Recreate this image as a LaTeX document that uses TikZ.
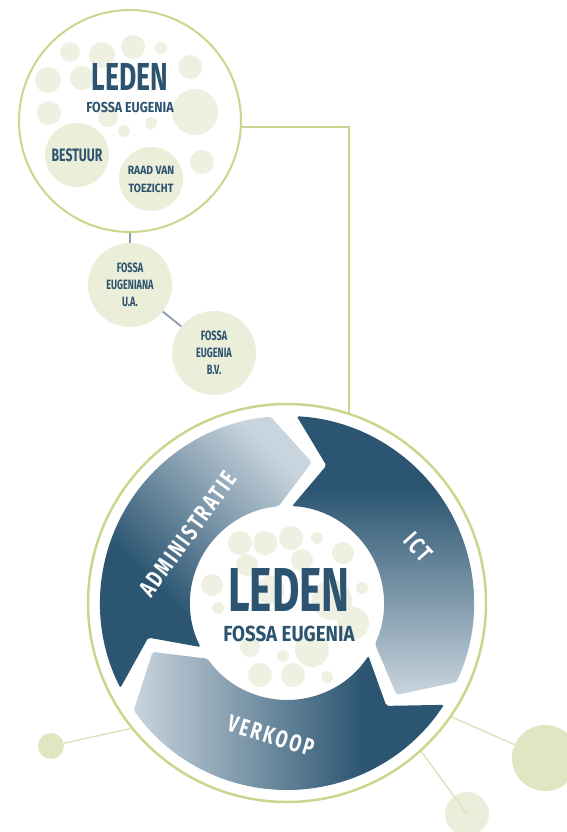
\documentclass[tikz,border=0pt]{standalone}
\usepackage{fontspec}
\newfontfamily\dinfont[FakeStretch=0.68]{Fira Sans}
\newfontfamily\dinbreed[FakeStretch=0.86]{Fira Sans}
\newfontfamily\dinlabel[FakeStretch=0.72,LetterSpace=10]{Fira Sans}

\definecolor{kringgroen}{RGB}{201,215,142}
\definecolor{bolvulling}{RGB}{235,238,217}
\definecolor{belletje}{RGB}{238,240,225}
\definecolor{tekstblauw}{RGB}{44,84,112}
\definecolor{pdonker}{RGB}{43,85,113}
\definecolor{plicht}{RGB}{201,213,222}
\definecolor{lijnblauw}{RGB}{140,156,176}
\definecolor{decogroen}{RGB}{224,229,194}
\definecolor{decolicht}{RGB}{235,238,219}
\definecolor{decolijnkleur}{RGB}{221,228,190}

\pgfdeclareverticalshading{pijlgrad}{100bp}{color(0bp)=(pdonker); color(38bp)=(pdonker); color(75bp)=(plicht); color(100bp)=(plicht)}

\tikzset{
  kring/.style={circle, draw=kringgroen, line width=2pt, fill=white, inner sep=0pt},
  bol/.style={circle, fill=bolvulling, inner sep=0pt, minimum size=84pt, text=tekstblauw,
    align=center, font=\dinfont\bfseries\fontsize{13.5}{17}\selectfont},
  deco/.style={circle, inner sep=0pt, draw=none},
  verbinding/.style={draw=lijnblauw, line width=1.8pt},
  groenlijn/.style={draw=kringgroen, line width=1.8pt},
  decolijn/.style={draw=decolijnkleur, line width=1.5pt},
  pijllabel/.style={text=white, font=\dinlabel\bfseries\fontsize{24}{24}\selectfont},
}

% one arrow of the ring: #1 = angle of the tip, #2 = shading angle
\newcommand{\kringpijl}[2]{%
  \shade[shading=pijlgrad, shading angle=#2, rounded corners=2pt]
    (#1:143) -- (#1+15:187) arc[start angle=#1+15, end angle=#1+127, radius=187]
    -- (#1+114:143) -- (#1+127:97) arc[start angle=#1+127, end angle=#1+15, radius=97]
    -- cycle;}

\begin{document}
\begin{tikzpicture}[x=1pt, y=-1pt]
\useasboundingbox (0,0) rectangle (567,832);

% decoration under the ring
\node[deco, fill=decogroen, minimum size=26pt] (decolinks) at (51,746) {};
\node[deco, fill=decogroen, minimum size=66pt] (decorechts) at (545,758) {};
\node[deco, fill=decolicht, minimum size=44pt] (decoonder) at (467,814) {};
\coordinate (eindlinks) at (165,721);
\coordinate (eindrechts) at (438,711);
\coordinate (eindonder) at (410,736);
\draw[decolijn] (decolinks) -- (eindlinks);
\draw[decolijn] (decorechts) -- (eindrechts);
\draw[decolijn] (decoonder.center) -- (eindonder);

% top circle
\node[kring, minimum size=222pt] (leden) at (130,121) {};
\foreach \x/\y/\r in {70/52/10, 102/55/13, 133/47/12, 161/48/6, 190/67/12, 48/80/13,
  82/78/12, 195/112/23, 49/113/12, 108/117/10, 124/131/6, 151/123/6, 202/162/12}
  \fill[belletje] (\x,\y) circle[radius=\r];
\node[bol, minimum size=64pt, font=\dinfont\bfseries\fontsize{18}{18}\selectfont] (bestuur) at (77,155) {BESTUUR};
\node[bol, minimum size=64pt, font=\dinbreed\bfseries\fontsize{12}{18}\selectfont] (raad) at (151,179) {RAAD VAN\\TOEZICHT};
\node[text=tekstblauw, font=\dinfont\bfseries\fontsize{39}{39}\selectfont] (ledentitel) at (130,77) {LEDEN};
\node[text=tekstblauw, font=\dinbreed\bfseries\fontsize{14.5}{14.5}\selectfont] (ledensub) at (130,107) {FOSSA EUGENIA};

% legal entities
\node[bol] (eugeniana) at (130,285) {FOSSA\\EUGENIANA\\U.A.};
\node[bol] (bv) at (214,353) {FOSSA\\EUGENIA\\B.V.};
\draw[verbinding] (leden) -- (eugeniana);
\draw[verbinding] (eugeniana) -- (bv);

% main ring
\node[kring, minimum size=398pt, line width=2.5pt] (hoofdkring) at (287,603) {};
\draw[groenlijn] (leden.-3) -| (hoofdkring.72.2);

\begin{scope}[shift={(287,603)}, y=1pt]
\kringpijl{80}{-45}
\kringpijl{-40}{180}
\kringpijl{200}{90}
\end{scope}

\node[pijllabel, rotate=54] (administratie) at (188,534) {ADMINISTRATIE};
\node[pijllabel, rotate=-48] (ict) at (418,547) {ICT};
\node[pijllabel, rotate=-17] (verkoop) at (271,736) {VERKOOP};

% centre
\foreach \x/\y/\r in {240/543/12, 265/543/12, 291/538/12, 317/538/6, 343/553/11, 247/565/11,
  302/560/11, 212/585/11, 362/588/6, 218/608/6, 332/600/20, 353/623/16, 250/647/10,
  312/650/17, 283/656/6, 260/675/12, 293/675/12, 327/677/6, 270/590/14}
  \fill[belletje] (\x,\y) circle[radius=\r];
\node[text=tekstblauw, font=\dinfont\bfseries\fontsize{62}{62}\selectfont] (middentitel) at (289,590) {LEDEN};
\node[text=tekstblauw, font=\dinbreed\bfseries\fontsize{21.8}{21.8}\selectfont] (middensub) at (289,634) {FOSSA EUGENIA};

\end{tikzpicture}
\end{document}
